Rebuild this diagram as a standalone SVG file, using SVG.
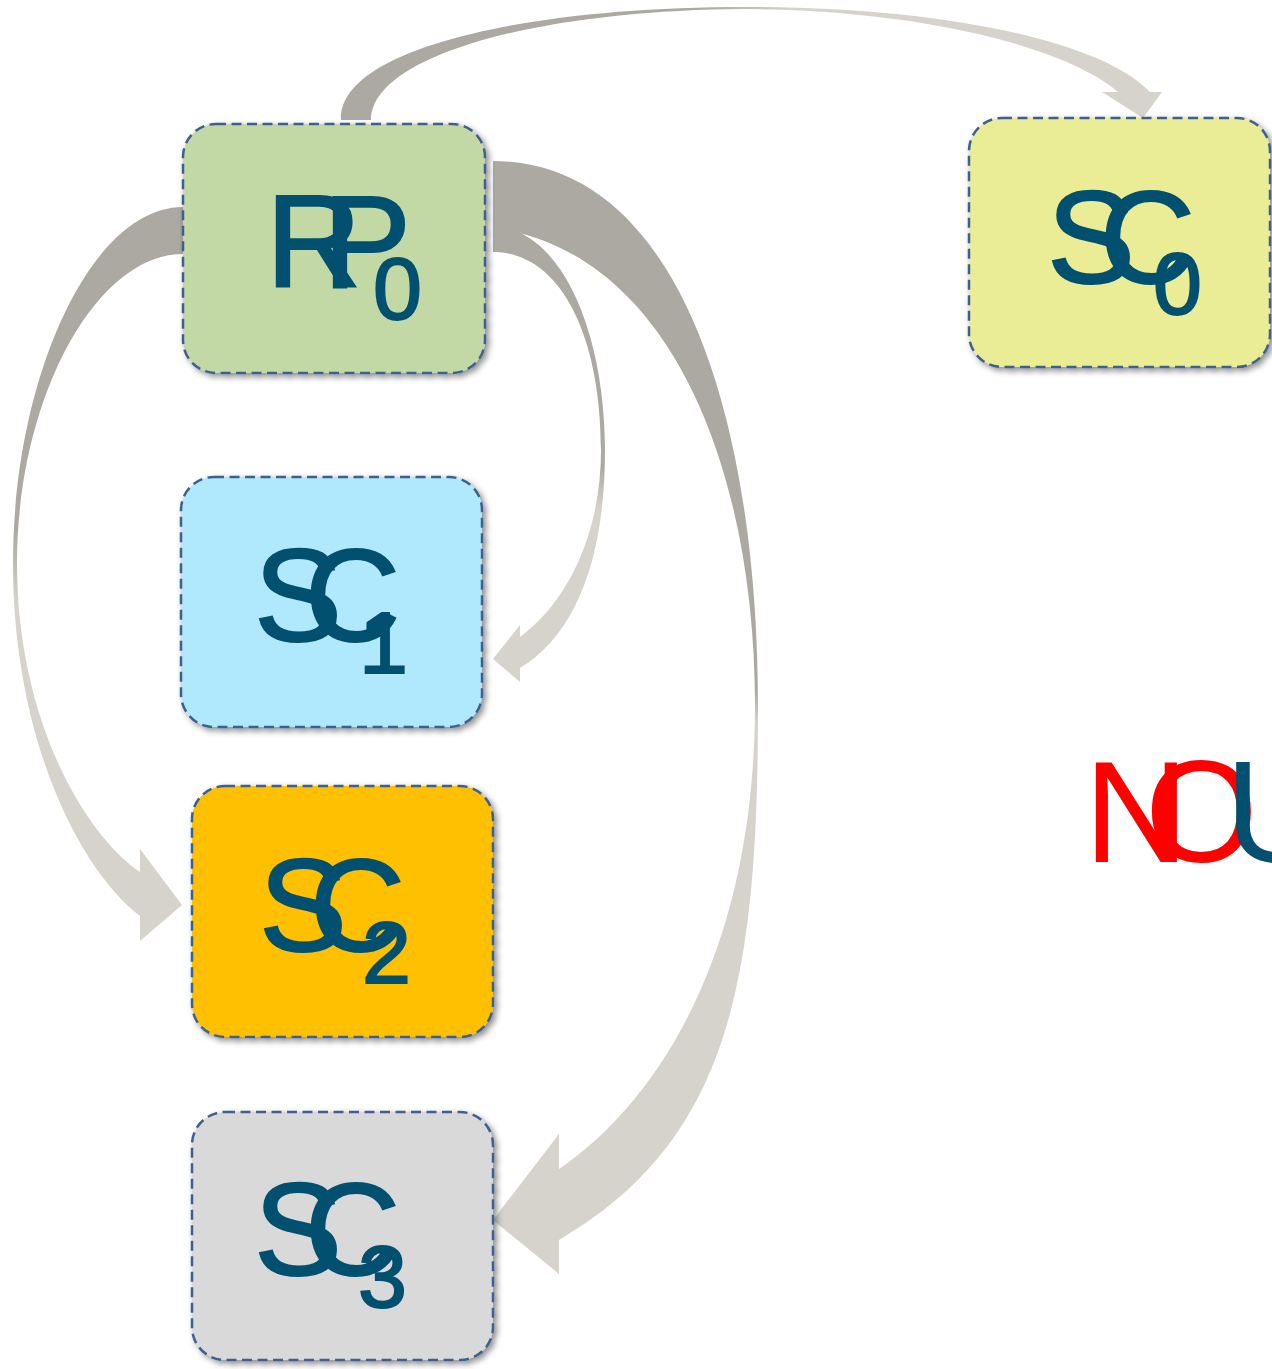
<svg xmlns="http://www.w3.org/2000/svg" width="1272" height="1369" viewBox="0 0 1272 1369">
  <style>
    .box { stroke: #3d6190; stroke-width: 2.5; stroke-dasharray: 10 5.5; filter: url(#shadow); }
    .lbl { font-family: "Liberation Sans", Arial, sans-serif; font-size: 132px; fill: #02506f; stroke: #02506f; stroke-width: 2; }
    .sub { font-size: 88px; }
    .nou { font-family: "Liberation Sans", Arial, sans-serif; font-size: 145px; }
  </style>
  <defs>
    <filter id="shadow" x="-10%" y="-10%" width="125%" height="125%">
      <feDropShadow dx="3" dy="3" stdDeviation="3" flood-color="#000" flood-opacity="0.45"/>
    </filter>
    <!-- arrow fills fade from dark grey at the tail to light grey at the head -->
    <linearGradient id="gTop" gradientUnits="userSpaceOnUse" x1="341" y1="0" x2="1162" y2="0">
      <stop offset="0.44" stop-color="#aba9a1"/>
      <stop offset="0.55" stop-color="#d5d3cb"/>
    </linearGradient>
    <linearGradient id="gLeft" gradientUnits="userSpaceOnUse" x1="0" y1="207" x2="0" y2="941">
      <stop offset="0.44" stop-color="#aba9a1"/>
      <stop offset="0.54" stop-color="#d5d3cb"/>
    </linearGradient>
    <linearGradient id="gSmall" gradientUnits="userSpaceOnUse" x1="0" y1="226" x2="0" y2="682">
      <stop offset="0.53" stop-color="#aba9a1"/>
      <stop offset="0.62" stop-color="#d5d3cb"/>
    </linearGradient>
    <linearGradient id="gBig" gradientUnits="userSpaceOnUse" x1="0" y1="161" x2="0" y2="1274">
      <stop offset="0.475" stop-color="#aba9a1"/>
      <stop offset="0.505" stop-color="#d5d3cb"/>
    </linearGradient>
  </defs>

  <g id="connectors">
    <!-- RP0 -> SC0 over the top -->
    <path fill="url(#gTop)" d="M341,120 C338,50 520,7 745,7 C940,7 1100,40 1150,92 L1162,92 L1143,118 L1102,92 L1118,92 C1070,50 930,10 745,9 C540,10 372,55 371,120 Z"/>
    <!-- RP0 -> SC2 round the left -->
    <path fill="url(#gLeft)" d="M183,207 C90,207 13,380 13,563 C13,740 80,870 140,916 L140,941 L182,905 L140,849 L140,872 C85,835 17,720 17,563 C17,400 95,254 183,254 Z"/>
    <!-- RP0 -> SC3 wide sweep on the right -->
    <path fill="url(#gBig)" d="M493,161 C680,161 758,420 758,707 C758,980 730,1140 559,1240 L559,1274 L493,1220 L559,1134 L559,1169 C660,1100 754,950 755,707 C755,460 665,250 493,228 Z"/>
    <!-- RP0 -> SC1 short loop on the right -->
    <path fill="url(#gSmall)" d="M493,226 C560,228 605,330 605,450 C605,560 575,635 520,668 L520,682 L493,659 L520,625 L520,637 C570,600 601,530 601,450 C601,335 560,252 493,252 Z"/>
  </g>

  <g id="RP0">
    <rect class="box" x="183" y="124" width="302" height="249" rx="33" fill="#c3d9a5"/>
    <text class="lbl"><tspan x="266" y="287">R</tspan><tspan x="323" y="287">P</tspan><tspan class="sub" x="373" y="319">0</tspan></text>
  </g>

  <g id="SC0">
    <rect class="box" x="969" y="118" width="301" height="249" rx="33" fill="#eaed96"/>
    <text class="lbl"><tspan x="1047" y="283">S</tspan><tspan x="1100" y="283">C</tspan><tspan class="sub" x="1153" y="314">0</tspan></text>
  </g>

  <g id="SC1">
    <rect class="box" x="181" y="477" width="301" height="250" rx="33" fill="#b0e8fe"/>
    <text class="lbl"><tspan x="254" y="641">S</tspan><tspan x="305" y="641">C</tspan><tspan class="sub" x="359" y="673">1</tspan></text>
  </g>

  <g id="SC2">
    <rect class="box" x="192" y="786" width="301" height="251" rx="33" fill="#fec000"/>
    <text class="lbl"><tspan x="259" y="951">S</tspan><tspan x="310" y="951">C</tspan><tspan class="sub" x="362" y="983">2</tspan></text>
  </g>

  <g id="SC3">
    <rect class="box" x="192" y="1112" width="301" height="248" rx="33" fill="#d9d9d9"/>
    <text class="lbl"><tspan x="254" y="1275">S</tspan><tspan x="305" y="1275">C</tspan><tspan class="sub" x="358" y="1307">3</tspan></text>
  </g>

  <g id="NOU">
    <text class="nou"><tspan x="1084" y="862" fill="#ff0000">N</tspan><tspan x="1145" y="862" fill="#ff0000">O</tspan><tspan x="1225" y="862" fill="#02506f">U</tspan></text>
  </g>
</svg>
